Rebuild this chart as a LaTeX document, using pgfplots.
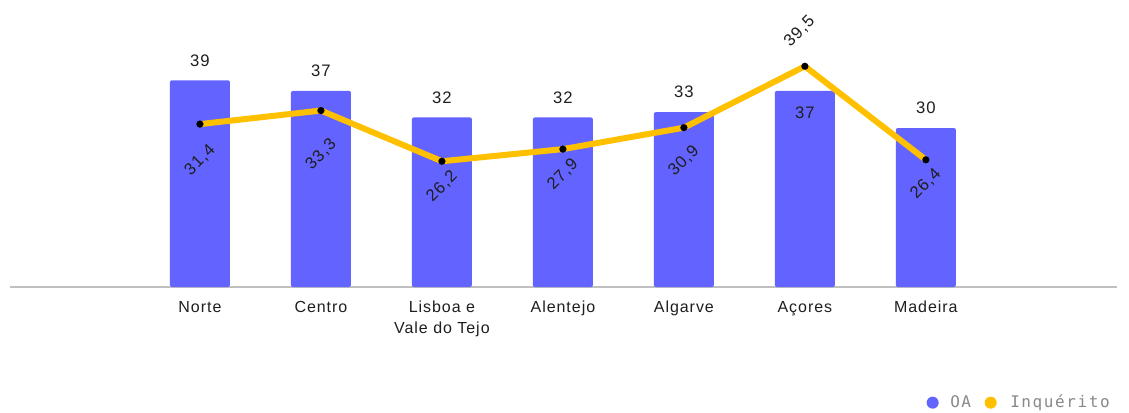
\documentclass[border=0pt]{standalone}
\usepackage{pgfplots}
\pgfplotsset{compat=1.18}
\usepackage{fontspec}
\setmainfont{Liberation Sans}[LetterSpace=6]
\newfontfamily\legendfont{DejaVu Sans Mono}[LetterSpace=10]
\definecolor{oaBlue}{RGB}{99,99,255}
\definecolor{inqYellow}{RGB}{255,192,0}
\definecolor{axisGray}{RGB}{192,192,192}
\definecolor{legGray}{RGB}{136,136,136}
\definecolor{lblDark}{RGB}{30,30,30}
\pgfplotsset{
  base/.style={
    scale only axis, width=830.25pt, height=215.25pt,
    at={(7.5pt,93.75pt)}, anchor=south west,
    xmin=-1.57, xmax=7.58, clip=false,
  },
}
\tikzset{
  vlab/.style={font=\fontsize{12.5}{14}\selectfont, text=lblDark, inner sep=0pt},
}
\begin{document}
\begin{tikzpicture}
\useasboundingbox (0,0) rectangle (846.75pt,309pt);
%% bars: OA
\begin{axis}[base,
  ymin=0, ymax=54.15,
  axis x line=bottom, axis y line=none,
  axis line style={draw=axisGray, line width=1.5pt, -},
  xtick={0,...,6},
  xticklabels={Norte,Centro,Lisboa e\\Vale do Tejo,Alentejo,Algarve,Açores,Madeira},
  xticklabel style={align=center, font=\fontsize{12}{15.75}\selectfont,
                    text=lblDark, anchor=north, yshift=-7pt},
  major tick length=0pt,
]
\addplot[ybar, bar width=45pt, fill=oaBlue, draw=none, rounded corners=1.5pt]
  coordinates {(0,39) (1,37) (2,32) (3,32) (4,33) (5,37) (6,30)};
\node[vlab, yshift=15pt] at (axis cs:0,39) {39};
\node[vlab, yshift=15pt] at (axis cs:1,37) {37};
\node[vlab, yshift=15pt] at (axis cs:2,32) {32};
\node[vlab, yshift=15pt] at (axis cs:3,32) {32};
\node[vlab, yshift=15pt] at (axis cs:4,33) {33};
\node[vlab, yshift=-16.5pt] at (axis cs:5,37) {37};
\node[vlab, yshift=15pt] at (axis cs:6,30) {30};
\end{axis}
%% line: Inquérito
\begin{axis}[base, ymin=8.59, ymax=48.78, axis lines=none]
\addplot[draw=inqYellow, line width=4.5pt, line join=round,
  mark=*, mark size=2.6pt, mark options={black, fill=black, line width=0.1pt}]
  coordinates {(0,31.4) (1,33.3) (2,26.2) (3,27.9) (4,30.9) (5,39.5) (6,26.4)};
\node[vlab, yshift=-27pt, rotate=45] at (axis cs:0,31.4) {31,4};
\node[vlab, yshift=-33pt, rotate=45] at (axis cs:1,33.3) {33,3};
\node[vlab, yshift=-19pt, rotate=45] at (axis cs:2,26.2) {26,2};
\node[vlab, yshift=-19pt, rotate=45] at (axis cs:3,27.9) {27,9};
\node[vlab, yshift=-25pt, rotate=45] at (axis cs:4,30.9) {30,9};
\node[vlab, yshift=26pt, xshift=-4pt, rotate=45] at (axis cs:5,39.5) {39,5};
\node[vlab, yshift=-18pt, rotate=45] at (axis cs:6,26.4) {26,4};
\end{axis}
%% legend
\fill[oaBlue] (699.5pt,7pt) circle (4.5pt);
\node[anchor=base west, inner sep=0pt, text=legGray, font=\legendfont\fontsize{12}{14}\selectfont]
  at (712.5pt,3.5pt) {OA};
\fill[inqYellow] (743pt,7pt) circle (4.5pt);
\node[anchor=base west, inner sep=0pt, text=legGray, font=\legendfont\fontsize{12}{14}\selectfont]
  at (757.5pt,3.5pt) {Inquérito};
\end{tikzpicture}
\end{document}
